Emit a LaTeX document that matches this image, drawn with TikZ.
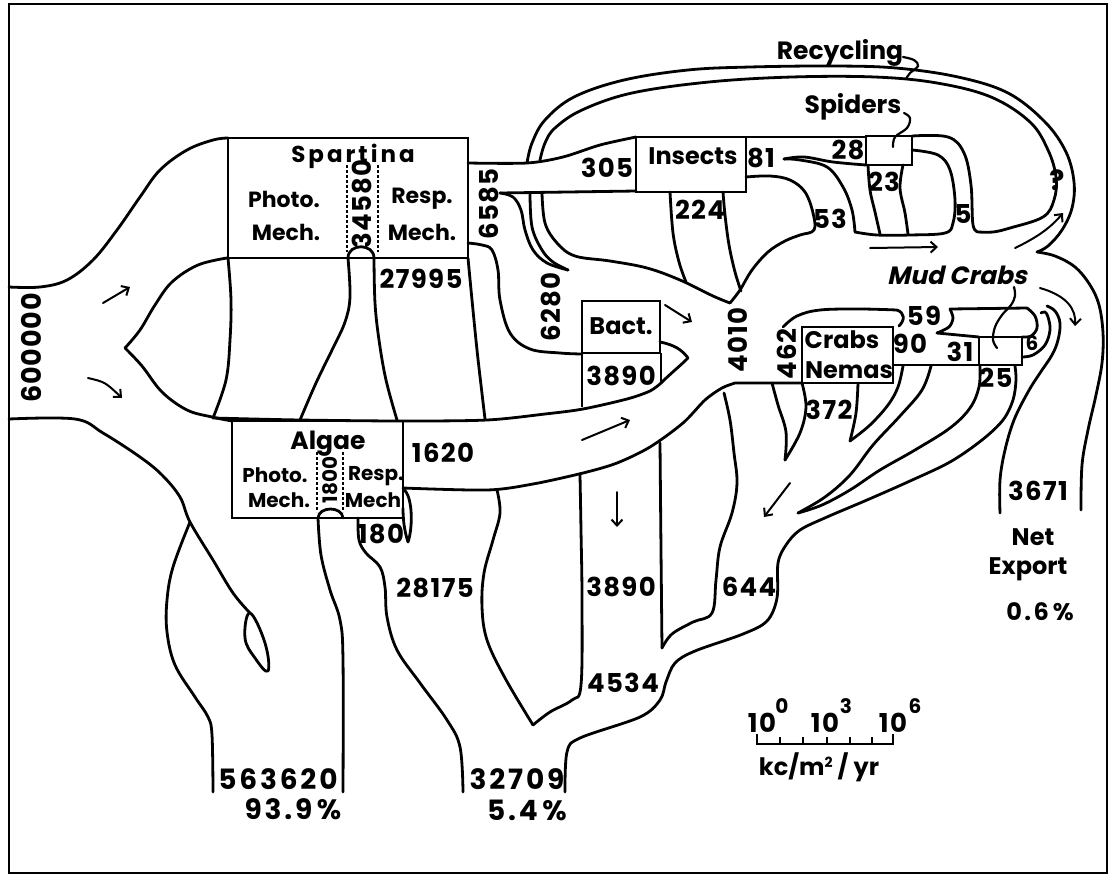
\documentclass[tikz,border=0pt]{standalone}
\usepackage{fontspec}
\setmainfont{Poppins}
\newfontfamily\itf{Poppins}[FakeSlant=0.22]
\newfontfamily\numf{Poppins}[LetterSpace=5]
\newfontfamily\bigf{Poppins}[LetterSpace=10]
\usetikzlibrary{arrows.meta}
\newcommand\fsz[1]{\fontsize{#1}{#1}\selectfont}
\begin{document}
\begin{tikzpicture}[x=1pt,y=-1pt,
  ln/.style={line width=2.8pt,line cap=round,line join=round},
  bx/.style={line width=2.8pt,line join=miter},
  dt/.style={line width=1.8pt,dash pattern=on 2.5pt off 2.5pt},
  arr/.style={line width=2pt,line cap=round,-{Straight Barb[length=6pt,width=11pt,line width=2pt]}},
  ptr/.style={line width=2.2pt,line cap=round},
  num/.style={inner sep=0pt,font=\numf\bfseries\fsz{26}},
  big/.style={inner sep=0pt,font=\bigf\bfseries\fsz{28}},
  lab/.style={inner sep=0pt,font=\bfseries\fsz{23}},
  sml/.style={inner sep=0pt,font=\bfseries\fsz{20}}]
\path[use as bounding box] (0,0) rectangle (1111,876);
% frame
\draw[line width=2.2pt] (9,4) rectangle (1107,873);
% ---------- input ----------
\draw[ln] plot[smooth,tension=.6] coordinates {(9,287)(40,287)(67,280)(93,260)(117,230)(140,197)(160,170)(187,150)(213,140)(228,138)};
\draw[ln] plot[smooth,tension=.6] coordinates {(9,419)(75,419)(103,433)(140,457)(162,475)(180,497)(190,522)(213,560)(233,593)(250,613)};
\draw[ln] plot[smooth cycle,tension=.7] coordinates {(250,613)(245,638)(255,658)(268,671)(265,643)};
\draw[ln] plot[smooth,tension=.6] coordinates {(190,522)(173,567)(167,600)(167,632)(175,665)(195,697)(208,717)(212,735)(213,792)};
\draw[ln] plot[smooth,tension=.6] coordinates {(227,258)(198,265)(172,282)(155,305)(140,330)(125,348)};
\draw[ln] plot[smooth,tension=.6] coordinates {(125,348)(142,366)(162,392)(187,410)(212,417)(232,421)};
\node[num,font=\numf\bfseries\fsz{27}\addfontfeature{LetterSpace=3},rotate=90] (n600000) at (31,348) {600000};
\draw[arr] (103,303) -- (130,287);
\draw[arr] (88,378) .. controls (105,382) .. (122,398);
% ---------- Spartina ----------
\draw[bx] (228,138) rectangle (468,258);
\draw[dt] (347,165)--(347,252) (378,165)--(378,252);
\draw[ln] (348,258) .. controls (348,243) and (374,243) .. (374,258);
\draw[ln] plot[smooth,tension=.6] coordinates {(348,258)(350,297)(345,322)(333,348)(316,383)(300,420)};
\draw[ln] plot[smooth,tension=.6] coordinates {(374,258)(375,303)(379,340)(386,380)(397,420)};
\draw[ln] plot[smooth,tension=.6] coordinates {(228,258)(231,300)(230,340)(226,380)(213,418)};
\draw[ln] plot[smooth,tension=.6] coordinates {(468,258)(472,300)(477,350)(481,385)(485,419)};
\draw[ln] plot[smooth,tension=.5] coordinates {(213,418)(300,420)(403,421)(487,420)(545,414)(583,409)(627,399)(650,391)(661,383)};
\node[lab] (spart) at (353,156) {S\hspace{3pt}p\hspace{3pt}a\hspace{3pt}r\hspace{3pt}t\hspace{3pt}i\hspace{3pt}n\hspace{3pt}a};
\node[lab,font=\bfseries\fsz{22}] (sp1) at (284,199) {Photo.};
\node[lab,font=\bfseries\fsz{22}] (sp2) at (286,232) {Mech.};
\node[lab,font=\bfseries\fsz{22}] (sp3) at (422,199) {Resp.};
\node[lab,font=\bfseries\fsz{22}] (sp4) at (422,232) {Mech.};
\node[num,rotate=90] (n34580) at (362,204) {34580};
\node[num] (n27995) at (421,279) {27995};
\node[num,rotate=90] (n6585) at (489,204) {6585};
% ---------- Algae ----------
\draw[bx] (232,421) rectangle (403,518);
\draw[dt] (317,452)--(317,512) (343,452)--(343,512);
\draw[ln] (318,518) .. controls (319,506) and (342,506) .. (343,518);
\draw[ln] plot[smooth,tension=.6] coordinates {(318,518)(321,555)(330,590)(340,620)(343,660)(343,792)};
\draw[ln] plot[smooth,tension=.6] coordinates {(358,518)(359,540)(366,553)(380,567)(385,587)(387,617)(397,650)(420,683)(447,720)(460,747)(463,792)};
\draw[ln] (403,489) .. controls (413,495) and (413,528) .. (408,542) .. controls (404,530) and (403,518) .. (403,508);
\node[lab,font=\bfseries\fsz{25}] (alg) at (328,444) {Algae};
\node[sml] (al1) at (275,475) {Photo.};
\node[sml] (al2) at (279,500) {Mech.};
\node[sml] (al3) at (376,476) {Resp.};
\node[sml] (al4) at (373,500) {Mech};
\node[sml,rotate=90] (n1800) at (330,480) {1800};
\node[num] (n180) at (381,534) {180};
\node[num] (n1620) at (443,453) {1620};
\draw[arr] (582,440) -- (630,420);
% 1620 bottom
\draw[ln] plot[smooth,tension=.5] coordinates {(403,488)(487,490)(533,484)(583,473)(617,463)(650,447)(683,423)(705,400)(722,388)(735,383)} -- (802,383);
% 28175 / V
\draw[ln] plot[smooth,tension=.6] coordinates {(497,490)(500,513)(493,540)(484,573)(482,607)(487,640)(505,678)(533,725)};
\draw[ln] plot[smooth,tension=.6] coordinates {(533,725)(550,712)(572,700)(581,685)(582,600)(581,530)(580,475)};
\node[num] (n28175) at (435,588) {28175};
% ---------- Bact ----------
\draw[bx] (582,301) rectangle (660,353);
\draw[bx] (582,353)--(582,407) (661,353)--(661,383);
\draw[ln] (660,342) .. controls (675,345) and (682,350) .. (688,358) .. controls (680,366) and (670,374) .. (661,383);
\node[lab,font=\bfseries\fsz{24}] (bact) at (621,326) {Bact.};
\node[num] (n3890a) at (621,376) {3890};
\draw[arr] (665,305) -- (692,322);
\draw[ln] plot[smooth,tension=.6] coordinates {(660,443)(661,550)(662,648)};
\draw[ln] plot[smooth,tension=.6] coordinates {(662,648)(672,634)(693,622)(712,613)(716,580)(720,547)(732,513)(737,483)(734,453)(730,420)(724,393)};
\draw[arr] (617,492) -- (617,527);
\node[num] (n3890b) at (621,587) {3890};
\node[num] (n4534) at (623,683) {4534};
\node[num] (n644) at (749,587) {644};
% big right boundary
\draw[ln] plot[smooth,tension=.55] coordinates {(565,792)(567,752)(580,738)(640,717)(660,700)(666,682)(675,663)(695,651)(743,634)(767,621)(777,598)(778,563)(786,545)(800,530)(827,517)(867,500)(910,481)(950,462)(982,440)(1003,420)(1013,400)(1016,380)(1015,366)};
\draw[ln] plot[smooth,tension=.6] coordinates {(931,366)(922,390)(900,416)(873,445)(850,475)(825,497)(798,513)};
\draw[ln] plot[smooth,tension=.6] coordinates {(980,366)(979,387)(970,408)(950,428)(915,450)(880,470)(850,490)(822,505)(798,513)};
\draw[arr] (790,483) -- (764,517);
% 372 V and 462 V
\draw[ln] plot[smooth,tension=.6] coordinates {(858,383)(856,413)(850,441)};
\draw[ln] plot[smooth,tension=.6] coordinates {(850,441)(870,425)(888,405)(898,387)(903,366)};
\draw[ln] plot[smooth,tension=.6] coordinates {(772,383)(778,405)(786,432)(785,460)};
\draw[ln] plot[smooth,tension=.6] coordinates {(802,383)(806,407)(800,433)(785,460)};
% ---------- Crabs Nemas ----------
\draw[bx] (802,327) rectangle (893,383);
\draw[ln] plot[smooth,tension=.6] coordinates {(783,327)(797,316)(820,310)(860,309)(897,310)};
\draw[ln] (897,310) .. controls (905,313) and (905,320) .. (899,326);
\node[lab,font=\bfseries\fsz{24}] (crabs) at (842,340) {Crabs};
\node[lab,font=\bfseries\fsz{24}] (nemas) at (849,370) {Nemas};
\node[num,rotate=90] (n462) at (787,354) {462};
\node[num] (n4010) [rotate=90] at (738,340) {4010};
\node[num] (n59) at (924,316) {59};
\node[num] (n90) at (910,344) {90};
\node[num] (n31) at (960,352) {31};
\node[num] (n372) at (829,410) {372};
\node[num] (n25) at (996,378) {25};
\node[sml] (n6) at (1032,343) {6};
% quad and channel
\draw[ln] plot[smooth,tension=.5] coordinates {(937,333)(949,327)(953,318)(950,309)};
\draw[ln] (950,309) -- (1027,308);
\draw[ln] plot[smooth,tension=.6] coordinates {(1027,308)(1035,316)(1037,328)(1031,336)(1022,337)};
\draw[ln] (937,333) -- (979,337);
\draw[ln] (893,365) -- (979,365);
\draw[bx] (979,337) rectangle (1022,365);
\draw[ptr] plot[smooth,tension=.6] coordinates {(1014,287)(1015,296)(1011,305)(1002,315)(995,327)(993,340)(997,348)};
\draw[ln] plot[smooth,tension=.6] coordinates {(1022,357)(1033,355)(1045,345)(1050,330)(1048,317)(1045,312)(1041,313)};
% export lines
\draw[ln] plot[smooth,tension=.6] coordinates {(1047,306)(1055,311)(1060,323)(1058,340)(1052,355)(1040,373)(1028,392)(1014,420)(1005,450)(1000,480)(1000,513)};
\draw[ln] plot[smooth,tension=.6] coordinates {(1037,252)(1055,256)(1075,267)(1090,285)(1099,305)(1103,333)(1102,363)(1096,395)(1088,430)(1082,465)(1081,510)};
\draw[arr] (1040,288) .. controls (1068,296) and (1076,310) .. (1075,326);
\node[num] (n3671) at (1038,491) {3671};
\node[lab,font=\bfseries\fsz{24}] (net) at (1033,537) {Net};
\node[lab,font=\bfseries\fsz{24}] (exp) at (1028,569) {Export};
\node[lab,font=\bigf\bfseries\fsz{24}] (pct3) at (1040,612) {0.6\,\%};
% ---------- Insects / Spiders ----------
\draw[bx] (636,137) rectangle (746,192);
\draw[ln] plot[smooth,tension=.5] coordinates {(468,163)(527,163)(563,157)(600,145)(636,137)};
\draw[ln] (500,193) -- (636,191);
\draw[ln] (746,137) -- (866,137);
\draw[bx] (866,136) rectangle (912,165);
\draw[ln] plot[smooth,tension=.6] coordinates {(500,193)(513,197)(521,210)(525,230)(533,250)(547,263)(568,270)};
\draw[ln] plot[smooth,tension=.6] coordinates {(530,193)(532,227)(542,250)(553,262)(568,270)};
\draw[ln] plot[smooth,tension=.6] coordinates {(542,193)(545,223)(557,243)(575,256)(610,261)(647,268)(680,280)(713,296)(730,303)};
\draw[ln] plot[smooth,tension=.6] coordinates {(468,243)(482,245)(492,250)(498,270)(500,300)(510,333)(530,349)(560,353)(582,354)};
\node[num,rotate=90] (n6280) at (551,307) {6280};
% recycling loop
\draw[ln] plot[smooth,tension=.6] coordinates {(527,163)(532,143)(545,120)(574,97)(624,80)(688,70)(750,67)(833,66)(896,68)(958,77)(1008,93)(1045,122)(1066,152)(1074,182)(1072,208)(1062,230)(1048,246)(1037,252)};
\draw[ln] plot[smooth,tension=.6] coordinates {(540,160)(545,143)(555,128)(582,110)(632,93)(709,82)(792,77)(875,77)(937,83)(991,97)(1030,122)(1048,150)(1056,177)(1054,200)(1043,217)(1010,228)(993,232)(979,232)};
\draw[ln] plot[smooth,tension=.6] coordinates {(979,232)(973,225)(971,185)(964,153)(948,137)(912,136)};
\draw[ln] plot[smooth,tension=.6] coordinates {(912,150)(938,155)(950,170)(955,200)(953,223)(945,233)(910,235)(877,235)(855,232)};
\draw[ln] plot[smooth,tension=.6] coordinates {(784,159)(800,160)(827,167)(843,187)(852,210)(855,232)};
\draw[ln] plot[smooth,tension=.6] coordinates {(784,159)(804,157)(833,162)(866,165)};
\draw[ln] plot[smooth,tension=.6] coordinates {(868,165)(870,190)(875,212)(880,234)};
\draw[ln] plot[smooth,tension=.6] coordinates {(903,165)(900,188)(905,213)(908,234)};
\draw[ln] plot[smooth,tension=.6] coordinates {(670,192)(673,233)(679,262)(686,282)};
\draw[ln] plot[smooth,tension=.6] coordinates {(723,192)(725,215)(729,245)(735,272)(741,291)};
\draw[ln] plot[smooth,tension=.6] coordinates {(746,177)(770,176)(790,180)(805,192)(813,213)(814,230)(800,235)(785,241)(768,252)(752,270)(740,290)(730,303)};
\node[num] (n305) at (607,168) {305};
\node[lab,font=\bfseries\fsz{24}] (ins) at (693,156) {Insects};
\node[num] (n81) at (761,158) {81};
\node[num] (n28) at (848,150) {28};
\node[num] (n23) at (884,182) {23};
\node[num] (n224) at (700,210) {224};
\node[num] (n53) at (830,219) {53};
\node[num] (n5) at (963,214) {5};
\node[lab,font=\bfseries\fsz{28}] (q) at (1057,180) {?};
\node[lab,font=\bfseries\fsz{25}] (recyc) at (840,53) {Recycling};
\draw[ptr] plot[smooth,tension=.6] coordinates {(903,57)(914,60)(918,66)(910,73)(906,79)};
\node[lab,font=\bfseries\fsz{25}] (spid) at (853,107) {Spiders};
\draw[ptr] plot[smooth,tension=.6] coordinates {(904,113)(910,118)(907,128)(895,137)(893,147)};
\node[lab,font=\itf\bfseries\fsz{25}] (mud) at (957,275) {Mud Crabs};
\draw[arr] (870,248) -- (938,247);
\draw[arr] (1015,248) .. controls (1040,236) and (1052,226) .. (1063,213);
% ---------- outputs ----------
\node[big] (n563620) at (278,779) {563620};
\node[big] (p939) at (293,809) {93.9\,\%};
\node[big] (n32709) at (517,779) {32709};
\node[big] (p54) at (527,810) {5.4\,\%};
% scale bar
\draw[ln,line cap=butt] (757,744) -- (893,744);
\foreach \xx in {780,803,827,850,872} \draw[line width=2.2pt] (\xx,744) -- (\xx,737);
\draw[line width=2.4pt] (757,745) -- (757,734) (893,745) -- (893,734);
\node[num] (s0) at (762,723) {10};
\node[sml] (s0e) at (782,706) {0};
\node[num] (s3) at (825,723) {10};
\node[sml] (s3e) at (846,706) {3};
\node[num] (s6) at (893,723) {10};
\node[sml] (s6e) at (915,706) {6};
\node[lab,font=\bfseries\fsz{24}] (unit) at (819,767) {kc/m\raisebox{8pt}{\fsz{14}2} / yr};
\end{tikzpicture}
\end{document}
